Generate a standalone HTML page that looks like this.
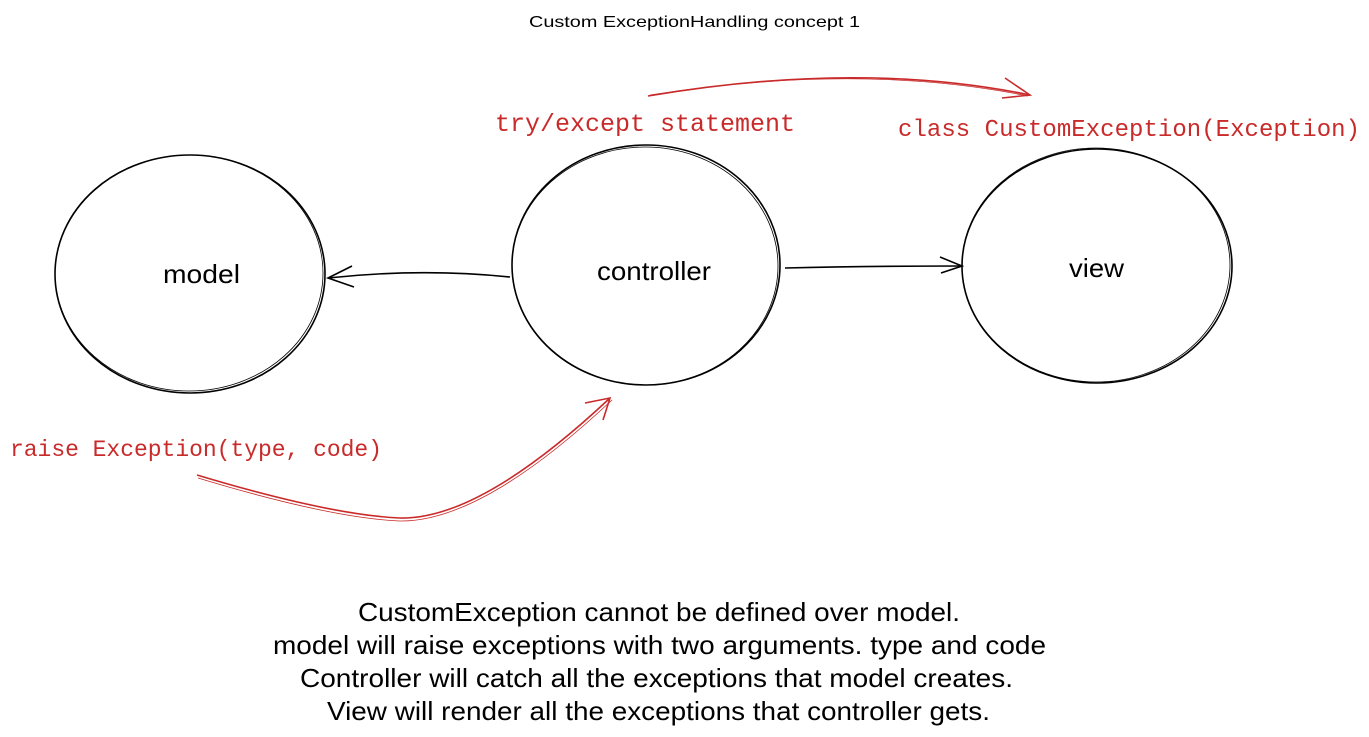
<!DOCTYPE html>
<html><head><meta charset="utf-8"><style>
html,body{margin:0;padding:0;background:#fff;width:1369px;height:737px;overflow:hidden}
svg{position:absolute;left:0;top:0}
.r{font-family:"Liberation Mono",monospace;fill:#c92a2a}
.b{font-family:"Liberation Sans",sans-serif;fill:#000}
</style></head><body>
<svg width="1369" height="737" viewBox="0 0 1369 737">
<text class="b" x="529" y="27" font-size="16" textLength="331" lengthAdjust="spacingAndGlyphs">Custom ExceptionHandling concept 1</text>
<g fill="none" stroke="#000" stroke-width="1.6">
<ellipse cx="190" cy="274" rx="135" ry="119"/>
<ellipse cx="189" cy="273" rx="134" ry="118" stroke-width="0.8"/>
<ellipse cx="646" cy="265" rx="134" ry="120"/>
<ellipse cx="645" cy="266" rx="133" ry="119" stroke-width="0.8"/>
<ellipse cx="1097" cy="266" rx="135" ry="117"/>
<ellipse cx="1096" cy="265" rx="134" ry="117" stroke-width="0.8"/>
<path d="M510 277 Q420 268 328 278"/>
<path d="M352 266 L328 278 L354 287"/>
<path d="M785 268 Q870 266 962 266"/>
<path d="M940 257 L962 266 L941 273"/>
</g>
<g class="b" font-size="26" lengthAdjust="spacingAndGlyphs">
<text x="163" y="283" textLength="77" lengthAdjust="spacingAndGlyphs">model</text>
<text x="597" y="280" textLength="114" lengthAdjust="spacingAndGlyphs">controller</text>
<text x="1069" y="277" textLength="55" lengthAdjust="spacingAndGlyphs">view</text>
</g>
<g fill="none" stroke="#c92a2a" stroke-width="1.6">
<path d="M648 96 Q860 60 1030 95"/>
<path d="M650 95 Q860 62 1028 96" stroke-width="0.8"/>
<path d="M1005 78 L1030 95 L1002 98"/>
<path d="M197 475 Q330 515 400 518 Q480 520 610 398"/>
<path d="M198 478 Q330 518 400 521 Q482 522 612 400" stroke-width="0.8"/>
<path d="M585 403 L610 398 L603 420"/>
</g>
<text class="r" x="495" y="131" font-size="25" textLength="300">try/except statement</text>
<text class="r" x="898" y="136" font-size="24" textLength="462">class CustomException(Exception)</text>
<text class="r" x="10" y="456" font-size="23" textLength="372">raise Exception(type, code)</text>
<g class="b" font-size="26">
<text x="358" y="621" textLength="602" lengthAdjust="spacingAndGlyphs">CustomException cannot be defined over model.</text>
<text x="273" y="654" textLength="773" lengthAdjust="spacingAndGlyphs">model will raise exceptions with two arguments. type and code</text>
<text x="300" y="687" textLength="713" lengthAdjust="spacingAndGlyphs">Controller will catch all the exceptions that model creates.</text>
<text x="327" y="720" textLength="663" lengthAdjust="spacingAndGlyphs">View will render all the exceptions that controller gets.</text>
</g>
</svg>
</body></html>
